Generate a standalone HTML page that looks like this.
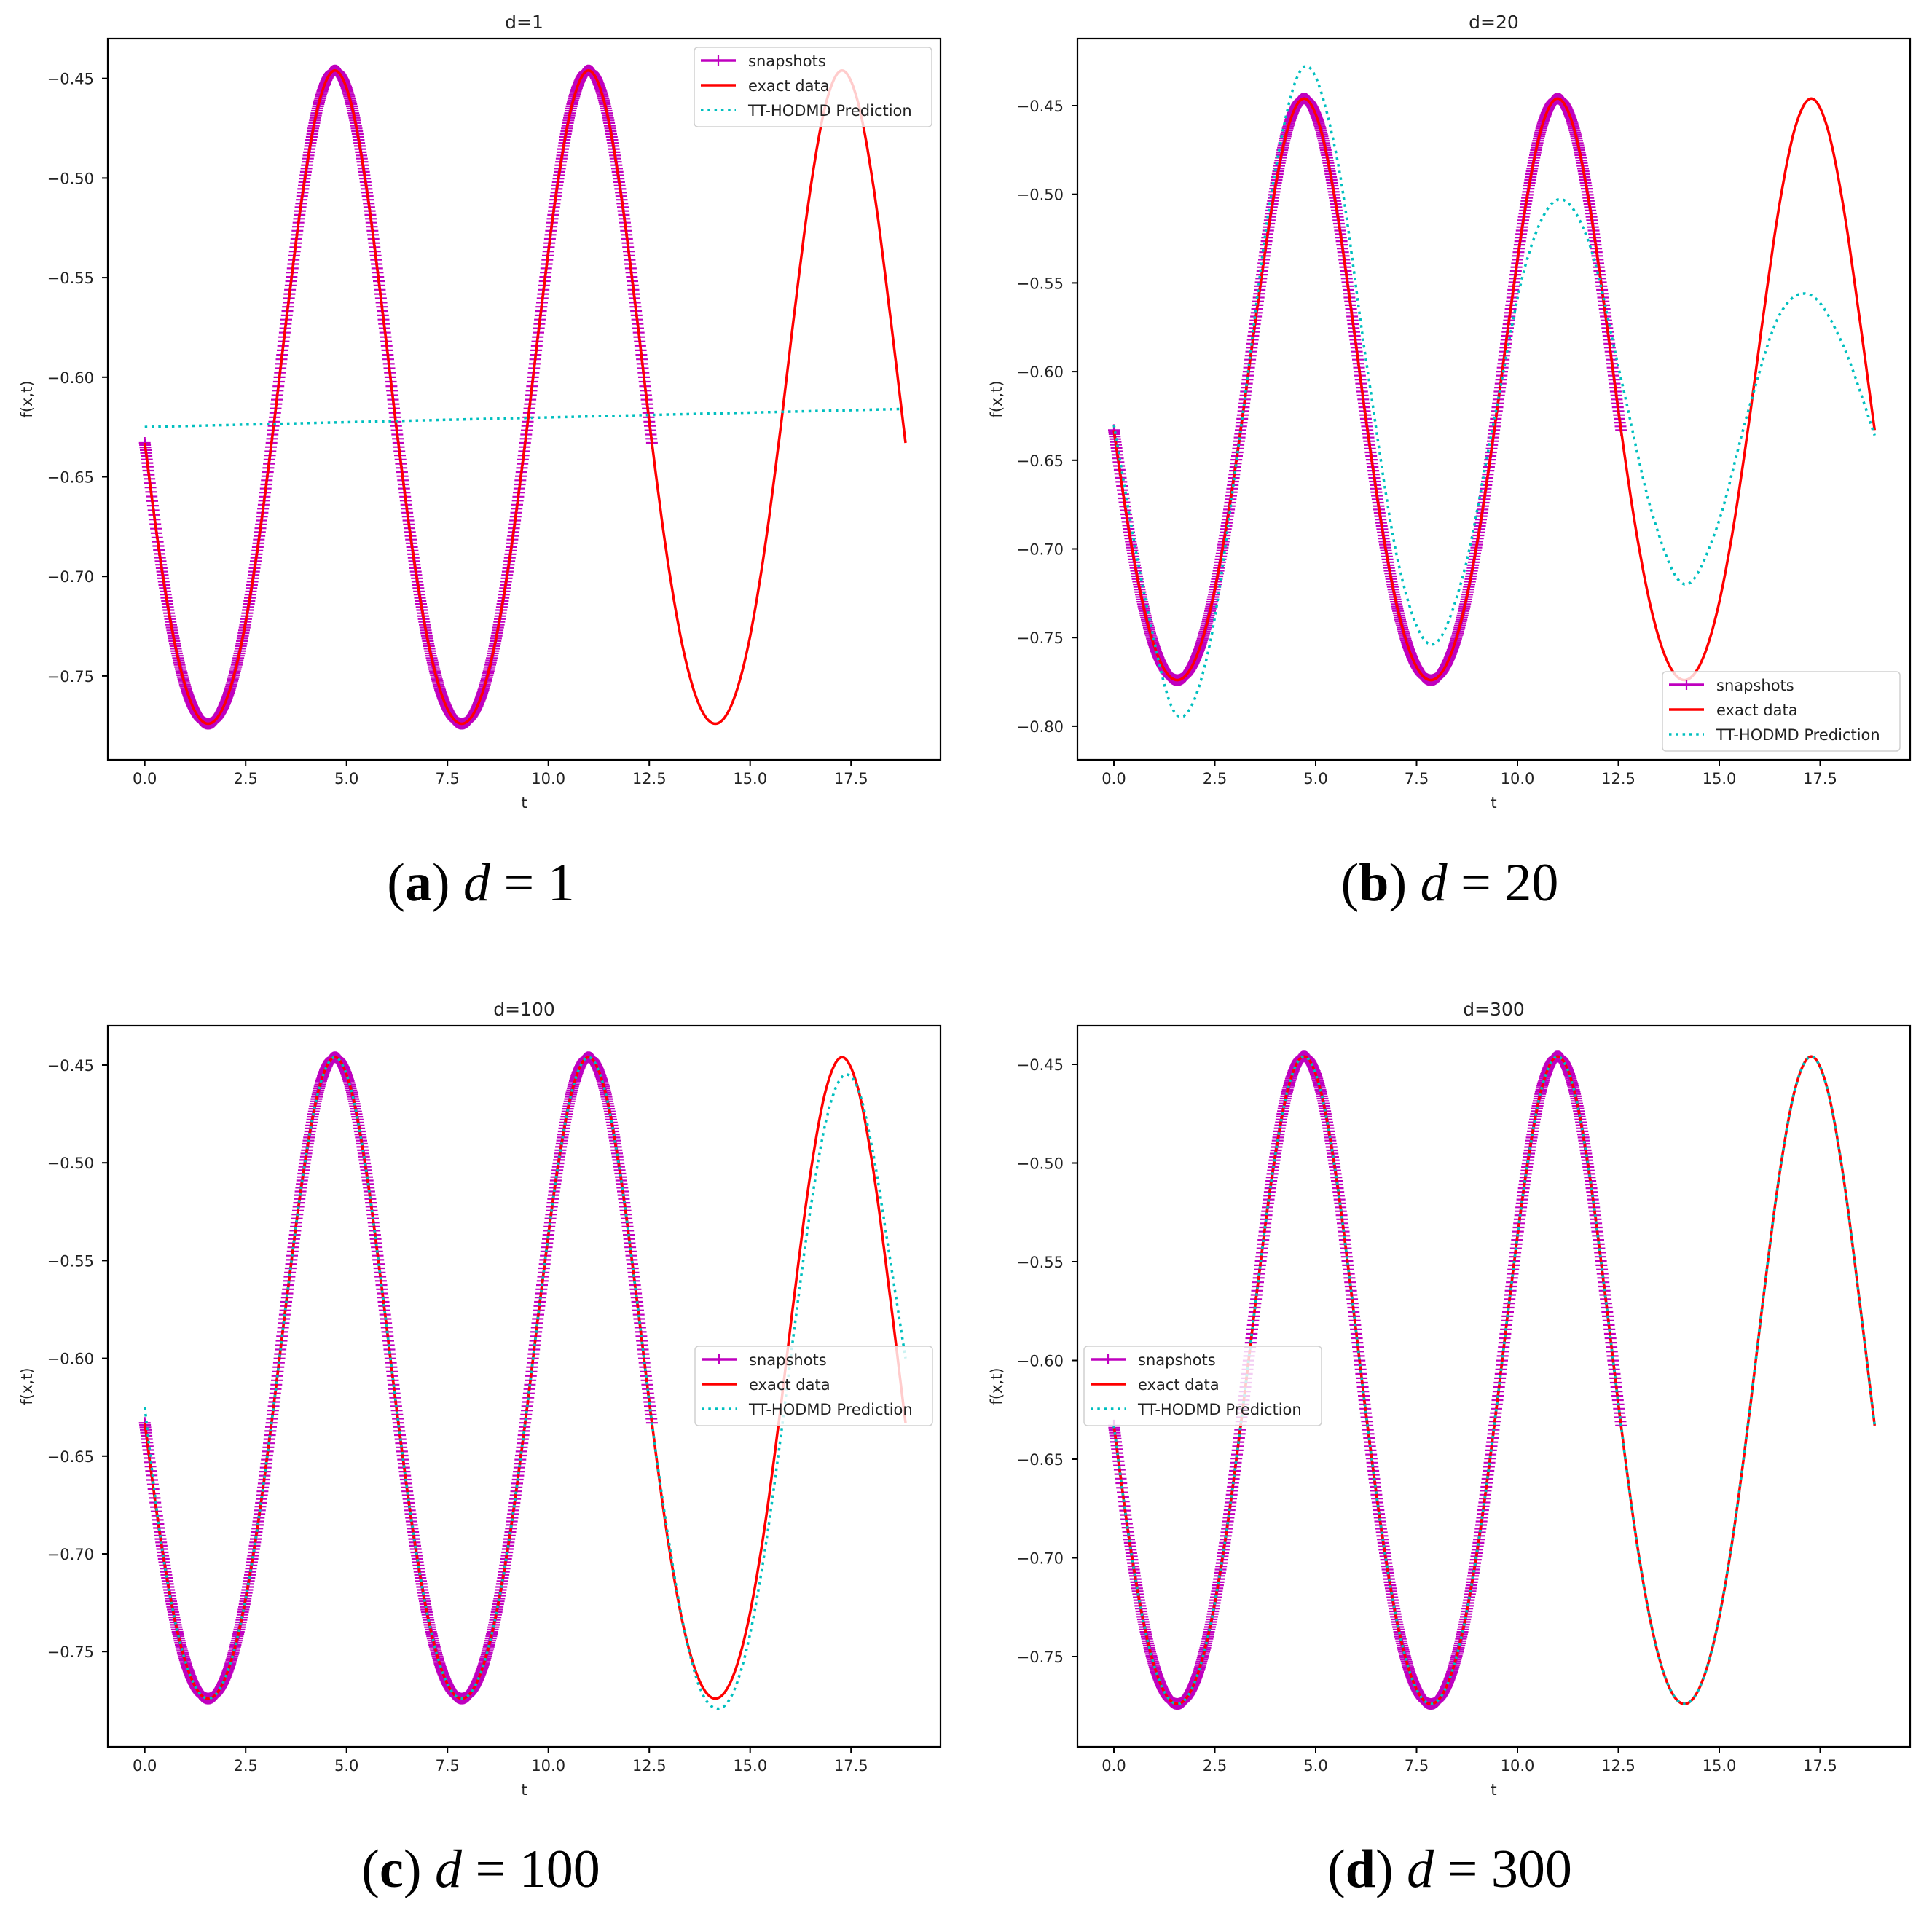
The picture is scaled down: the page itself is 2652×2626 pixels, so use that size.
<!DOCTYPE html>
<html><head><meta charset="utf-8"><style>
html,body{margin:0;padding:0;background:#fff}
svg{display:block}
text{font-family:"DejaVu Sans","Liberation Sans",sans-serif;fill:#222}
.cap{font-family:"Liberation Serif",serif;fill:#000}
</style></head><body>
<svg id="fig" width="2652" height="2626" viewBox="0 0 2652 2626" xmlns="http://www.w3.org/2000/svg"></svg>
<script>
// ---- data ----
const exactT0 = 0, exactStep = Math.PI/8;   // exact data sampled every pi/8 from 0 to 6pi
const exactVals = [-0.633,-0.6924,-0.7375,-0.7649,-0.774,-0.7649,-0.7375,-0.6924,-0.633,-0.5668,-0.5055,-0.4619,-0.446,-0.4619,-0.5055,-0.5668,
 -0.633,-0.6924,-0.7375,-0.7649,-0.774,-0.7649,-0.7375,-0.6924,-0.633,-0.5668,-0.5055,-0.4619,-0.446,-0.4619,-0.5055,-0.5668,
 -0.633,-0.6924,-0.7375,-0.7649,-0.774,-0.7649,-0.7375,-0.6924,-0.633,-0.5668,-0.5055,-0.4619,-0.446,-0.4619,-0.5055,-0.5668,-0.633];
const snapshotEndT = 12.566;
const predAT = [0, 18.7];
const predAVals = [-0.625, -0.616];
const predBStep = Math.PI/4;
const predBVals = [-0.630,-0.729,-0.794,-0.756,-0.633,-0.496,-0.428,-0.476,-0.599,-0.710,-0.754,-0.716,-0.627,-0.539,-0.503,-0.528,-0.604,-0.681,-0.720,-0.689,-0.623,-0.568,-0.557,-0.585,-0.636];
const predCVals = [-0.625,-0.6924,-0.7375,-0.7649,-0.774,-0.7649,-0.7375,-0.6924,-0.633,-0.5668,-0.5055,-0.4619,-0.446,-0.4619,-0.5055,-0.5668,
 -0.633,-0.6924,-0.7375,-0.7649,-0.774,-0.7649,-0.7375,-0.6924,-0.633,-0.5668,-0.5055,-0.4619,-0.446,-0.4619,-0.5055,-0.5668,
 -0.633,-0.690,-0.737,-0.768,-0.779,-0.773,-0.748,-0.705,-0.648,-0.584,-0.524,-0.478,-0.456,-0.462,-0.497,-0.548,-0.600];
const xTickVals = [0,2.5,5,7.5,10,12.5,15,17.5];
const xTickLabels = ["0.0","2.5","5.0","7.5","10.0","12.5","15.0","17.5"];
const yTicksA = [-0.45,-0.50,-0.55,-0.60,-0.65,-0.70,-0.75];
const yTicksB = [-0.45,-0.50,-0.55,-0.60,-0.65,-0.70,-0.75,-0.80];
const titles = ["d=1","d=20","d=100","d=300"];
const captionLetters = ["a","b","c","d"];
const captionNums = ["1","20","100","300"];
// ---- layout ----
const NS="http://www.w3.org/2000/svg";
const svg=document.getElementById('fig');
function mk(tag,attrs,parent){const e=document.createElementNS(NS,tag);for(const k in attrs)e.setAttribute(k,attrs[k]);(parent||svg).appendChild(e);return e;}
function grid(vals,step){return vals.map((v,i)=>[i*step,v]);}
function interp(pts,n){ // Catmull-Rom densify
  const out=[];
  for(let i=0;i<pts.length-1;i++){
    const p0=pts[Math.max(0,i-1)],p1=pts[i],p2=pts[i+1],p3=pts[Math.min(pts.length-1,i+2)];
    for(let k=0;k<n;k++){const s=k/n,s2=s*s,s3=s2*s;
      const f=(a,b,c,d)=>0.5*((2*b)+(-a+c)*s+(2*a-5*b+4*c-d)*s2+(-a+3*b-3*c+d)*s3);
      out.push([f(p0[0],p1[0],p2[0],p3[0]),f(p0[1],p1[1],p2[1],p3[1])]);}
  }
  out.push(pts[pts.length-1]);return out;
}
const exactPts=grid(exactVals,exactStep);
const panels=[
 {L:148,R:1291,T:53,B:1043,x0:198.7,xs:55.4,y0:107.7,ys:2734,yt:yTicksA,pred:predAT.map((t,i)=>[t,predAVals[i]]),lg:[953,65],cx:660,cy:1236},
 {L:1479,R:2622,T:53,B:1043,x0:1529,xs:55.4,y0:145,ys:2434,yt:yTicksB,pred:grid(predBVals,predBStep),lg:[2282,922],cx:1990,cy:1236},
 {L:148,R:1291,T:1408,B:2398,x0:198.7,xs:55.4,y0:1462,ys:2684,yt:yTicksA,pred:grid(predCVals,exactStep),lg:[954,1848],cx:660,cy:2590},
 {L:1479,R:2622,T:1408,B:2398,x0:1529,xs:55.4,y0:1461,ys:2710,yt:yTicksA,pred:exactPts,lg:[1488,1848],cx:1990,cy:2590}
];
panels.forEach((P,pi)=>{
  const g=mk('g',{});
  
  
  const X=t=>P.x0+t*P.xs, Y=v=>P.y0+(-0.45-v)*P.ys;
  const cid='clip'+pi;
  const cp=mk('clipPath',{id:cid},g);mk('rect',{x:P.L,y:P.T,width:P.R-P.L,height:P.B-P.T},cp);
  const plot=mk('g',{'clip-path':'url(#'+cid+')'},g);
  // snapshots
  const dense=interp(exactPts,30).filter(p=>p[0]<=snapshotEndT+1e-3);
  const snap=mk('g',{},plot);
  
  
  mk('polyline',{points:dense.map(p=>X(p[0]).toFixed(1)+','+Y(p[1]).toFixed(1)).join(' '),fill:'none',stroke:'#bf00bf','stroke-width':3.5},snap);
  let d='';
  for(const p of dense){const x=X(p[0]),y=Y(p[1]);d+=`M${(x-8).toFixed(1)} ${y.toFixed(1)}h16M${x.toFixed(1)} ${(y-8).toFixed(1)}v16`;}
  mk('path',{d:d,stroke:'#bf00bf','stroke-width':2.2,fill:'none'},snap);
  // exact
  const ex=mk('polyline',{points:interp(exactPts,10).map(p=>X(p[0]).toFixed(1)+','+Y(p[1]).toFixed(1)).join(' '),fill:'none',stroke:'#ff0000','stroke-width':3.5},plot);
  
  
  // prediction
  const pr=mk('polyline',{points:(P.pred.length>2?interp(P.pred,10):P.pred).map(p=>X(p[0]).toFixed(1)+','+Y(p[1]).toFixed(1)).join(' '),fill:'none',stroke:'#00bfbf','stroke-width':3.5,'stroke-dasharray':'3.5 5.8'},plot);
  
  
  // frame
  const fr=mk('rect',{x:P.L,y:P.T,width:P.R-P.L,height:P.B-P.T,fill:'none',stroke:'#000','stroke-width':2.2},g);
  
  
  // x ticks
  xTickVals.forEach((v,i)=>{const x=X(v);
    mk('line',{x1:x,y1:P.B,x2:x,y2:P.B+8,stroke:'#000','stroke-width':2},g);
    const t=mk('text',{x:x,y:P.B+33,'font-size':21,'text-anchor':'middle'},g);t.textContent=xTickLabels[i];
    
    });
  P.yt.forEach(v=>{const y=Y(v);
    mk('line',{x1:P.L-8,y1:y,x2:P.L,y2:y,stroke:'#000','stroke-width':2},g);
    const t=mk('text',{x:P.L-19,y:y+8,'font-size':21,'text-anchor':'end'},g);t.textContent='\u2212'+Math.abs(v).toFixed(2);
    
    });
  const xl=mk('text',{x:(P.L+P.R)/2,y:P.B+66,'font-size':21,'text-anchor':'middle'},g);xl.textContent='t';
  
  
  const yx=P.L-104,yy=(P.T+P.B)/2;
  const yl=mk('text',{x:yx,y:yy,'font-size':21,'text-anchor':'middle',transform:`rotate(-90 ${yx} ${yy})`},g);yl.textContent='f(x,t)';
  
  
  const ti=mk('text',{x:(P.L+P.R)/2,y:P.T-14,'font-size':25,'text-anchor':'middle'},g);ti.textContent=titles[pi];
  
  
  // legend
  const [lx,ly]=P.lg;
  const lg=mk('g',{},g);
  
  
  mk('rect',{x:lx,y:ly,width:326,height:109,rx:5,fill:'#fff','fill-opacity':0.8,stroke:'#d0d0d0','stroke-width':1.5},lg);
  const rows=[['snapshots','#bf00bf',null],['exact data','#ff0000',null],['TT-HODMD Prediction','#00bfbf','3.5 5.8']];
  rows.forEach((r,i)=>{const ry=ly+18+i*34;
    const ln=mk('line',{x1:lx+9,y1:ry,x2:lx+57,y2:ry,stroke:r[1],'stroke-width':3.5},lg);
    if(r[2])ln.setAttribute('stroke-dasharray',r[2]);
    if(i===0)mk('path',{d:`M${lx+26} ${ry}h14M${lx+33} ${ry-7}v14`,stroke:r[1],'stroke-width':2.2},lg);
    const t=mk('text',{x:lx+74,y:ry+8,'font-size':21},lg);t.textContent=r[0];
    
    });
  // caption
  const cap=mk('text',{x:P.cx,y:P.cy,'font-size':74,'text-anchor':'middle',class:'cap'},svg);
  
  
  const s1=mk('tspan',{},cap);s1.textContent='(';
  const s2=mk('tspan',{'font-weight':'bold'},cap);s2.textContent=captionLetters[pi];
  const s3=mk('tspan',{},cap);s3.textContent=') ';
  const s4=mk('tspan',{'font-style':'italic'},cap);s4.textContent='d';
  const s5=mk('tspan',{},cap);s5.textContent=' = '+captionNums[pi];
});
</script>
</body></html>
